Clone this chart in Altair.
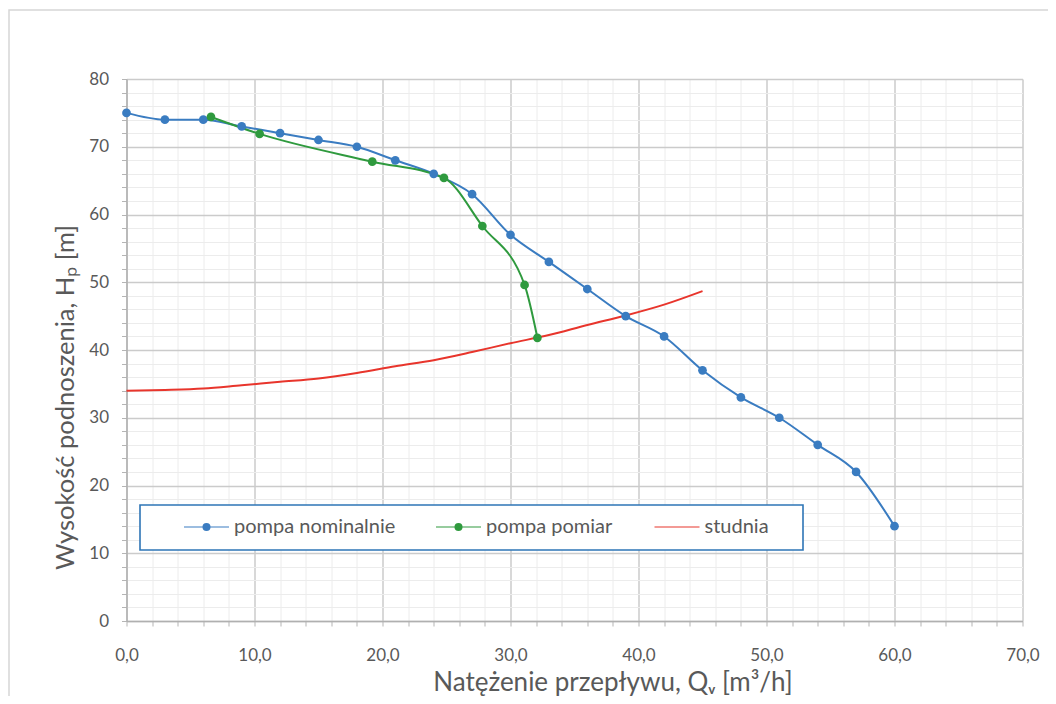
import altair as alt
import pandas as pd

# ---- data ----
series_names = ["pompa nominalnie", "pompa pomiar", "studnia"]
series_colors = ["#3a7cc1", "#2f9a3e", "#e8352c"]
series_markers = [True, True, False]

nom_q = [0, 3, 6, 9, 12, 15, 18, 21, 24, 27, 30, 33, 36, 39, 42, 45, 48, 51, 54, 57, 60]
nom_h = [75, 74, 74, 73, 72, 71, 70, 68, 66, 63, 57, 53, 49, 45, 42, 37, 33, 30, 26, 22, 14]

pom_q = [6.6, 10.4, 19.2, 24.8, 27.8, 31.1, 32.1]
pom_h = [74.4, 71.9, 67.8, 65.4, 58.3, 49.6, 41.8]

stud_q = [0, 3, 6, 9, 12, 15, 18, 21, 24, 27, 30, 33, 36, 39, 42, 45]
stud_h = [34.0, 34.1, 34.3, 34.8, 35.3, 35.8, 36.6, 37.6, 38.5, 39.7, 41.0, 42.2, 43.7, 45.1, 46.7, 48.7]

x_ticks = [0, 2, 4, 6, 8, 10, 12, 14, 16, 18, 20, 22, 24, 26, 28, 30, 32, 34,
           36, 38, 40, 42, 44, 46, 48, 50, 52, 54, 56, 58, 60, 62, 64, 66, 68, 70]
y_ticks = [0, 2, 4, 6, 8, 10, 12, 14, 16, 18, 20, 22, 24, 26, 28, 30, 32, 34, 36, 38,
           40, 42, 44, 46, 48, 50, 52, 54, 56, 58, 60, 62, 64, 66, 68, 70, 72, 74, 76, 78, 80]

x_title = "Natężenie przepływu, Qᵥ [m³/h]"
y_title = "Wysokość podnoszenia, Hₚ [m]"

rows = []
for q, h in zip(nom_q, nom_h):
    rows.append({"series": series_names[0], "Q": q, "H": h})
for q, h in zip(pom_q, pom_h):
    rows.append({"series": series_names[1], "Q": q, "H": h})
for q, h in zip(stud_q, stud_h):
    rows.append({"series": series_names[2], "Q": q, "H": h})
df = pd.DataFrame(rows)

FONT = "Lato"
TXT = "#595959"
MAJOR = "#cbcbcb"
MINOR = "#ececec"

color_scale = alt.Scale(domain=series_names, range=series_colors)

grid_color = alt.condition("datum.value % 10 === 0", alt.value(MAJOR), alt.value(MINOR))
grid_width = alt.condition("datum.value % 10 === 0", alt.value(1.5), alt.value(1))

x_axis = alt.Axis(
    values=x_ticks,
    labelExpr="datum.value % 10 === 0 ? replace(format(datum.value, '.1f'), '.', ',') : ''",
    labelOverlap=False,
    labelFlush=False,
    labelFont=FONT,
    labelFontSize=17,
    labelColor=TXT,
    labelPadding=21,
    tickSize=5,
    tickColor="#b5b5b5",
    domainColor="#b0b0b0",
    domainWidth=1.5,
    gridColor=grid_color,
    gridWidth=grid_width,
    title=x_title,
    titleFont=FONT,
    titleFontSize=26,
    titleFontWeight="normal",
    titleColor=TXT,
    titleX=486,
    titleY=69,
    titleAlign="center",
    titleBaseline="alphabetic",
)

y_axis = alt.Axis(
    values=y_ticks,
    labelExpr="datum.value % 10 === 0 ? format(datum.value, 'd') : ''",
    labelOverlap=False,
    labelFlush=False,
    labelFont=FONT,
    labelFontSize=17,
    labelColor=TXT,
    labelPadding=13,
    tickSize=5,
    tickColor="#b5b5b5",
    domainColor="#b0b0b0",
    domainWidth=1.5,
    gridColor=grid_color,
    gridWidth=grid_width,
    title=y_title,
    titleFont=FONT,
    titleFontSize=25.5,
    titleFontWeight="normal",
    titleColor=TXT,
    titleX=-61,
    titleY=318,
    titleAlign="center",
    titleBaseline="middle",
)

x_enc = alt.X("Q:Q", scale=alt.Scale(domain=[0, 70], nice=False), axis=x_axis)
y_enc = alt.Y("H:Q", scale=alt.Scale(domain=[0, 80], nice=False), axis=y_axis)

base = alt.Chart(df)

lines = base.mark_line(interpolate="monotone", strokeWidth=2).encode(
    x=x_enc,
    y=y_enc,
    color=alt.Color("series:N", scale=color_scale, legend=None),
    detail="series:N",
)

points = base.transform_filter(
    alt.datum.series != "studnia"
).mark_point(filled=True, size=76, opacity=1).encode(
    x=x_enc,
    y=y_enc,
    color=alt.Color("series:N", scale=color_scale, legend=None),
)

one = pd.DataFrame({"k": [0]})

# chart-area frame (decoration)
frame = alt.Chart(one).mark_rect(
    fill="white", fillOpacity=0, stroke="#d6d6d6", strokeWidth=1.5
).encode(
    x=alt.value(-117.5), x2=alt.value(1200), y=alt.value(-69), y2=alt.value(1000)
)

# ---- legend box drawn inside the plot (layout positions, plot-relative px) ----
legend_layers = [
    alt.Chart(one).mark_rect(fill="white", stroke="#2e75b6", strokeWidth=1.6).encode(
        x=alt.value(13.5), x2=alt.value(676.5), y=alt.value(426), y2=alt.value(471)
    )
]
sym_x0 = [57.5, 309.5, 528.0]
sym_len = 45
label_gap = 5
legend_y = 448
for name, col, has_marker, x0 in zip(series_names, series_colors, series_markers, sym_x0):
    legend_layers.append(
        alt.Chart(one).mark_rule(color=col, strokeWidth=2, strokeOpacity=0.5).encode(
            x=alt.value(x0), x2=alt.value(x0 + sym_len), y=alt.value(legend_y)
        )
    )
    if has_marker:
        legend_layers.append(
            alt.Chart(one).mark_point(filled=True, size=64, opacity=1, color=col).encode(
                x=alt.value(x0 + sym_len / 2), y=alt.value(legend_y)
            )
        )
    legend_layers.append(
        alt.Chart(one).mark_text(
            text=name, align="left", baseline="middle", font=FONT, fontSize=20, color=TXT
        ).encode(x=alt.value(x0 + sym_len + label_gap), y=alt.value(legend_y))
    )

chart = alt.layer(frame, lines, points, *legend_layers).properties(
    width=896,
    height=542,
    padding={"left": 118.5, "top": 71, "right": 25, "bottom": 75},
    autosize=alt.AutoSizeParams(type="none"),
    background="white",
).configure_view(strokeWidth=0)

chart.save("out.html", embed_options={"renderer": "svg", "actions": False})
